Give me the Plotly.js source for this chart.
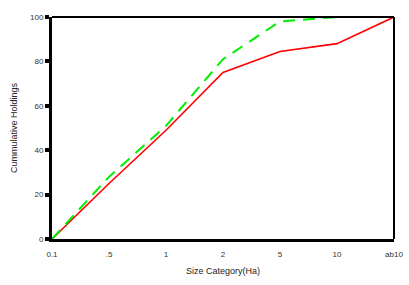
<!DOCTYPE html>
<html>
<head>
<meta charset="utf-8">
<script src="https://cdn.plot.ly/plotly-3.0.1.min.js"></script>
<style>html,body{margin:0;padding:0;background:#fff;}#chart{width:409px;height:285px;}</style>
</head>
<body>
<div id="chart"></div>
<script>
var categories = ["0.1", ".5", "1", "2", "5", "10", "ab10"];
var seriesRed = [0, 25, 49, 75, 84.5, 88, 100];
var seriesGreen = [0, 28, 51, 81, 98, 100, 100];
var yTicks = [0, 20, 40, 60, 80, 100];

var traces = [
  {x: categories, y: seriesRed, type: "scatter", mode: "lines", line: {color: "#ff0000", width: 1.6}, showlegend: false, cliponaxis: false},
  {x: categories, y: seriesGreen, type: "scatter", mode: "lines", line: {color: "#00ee00", width: 2, dash: "12px,8px"}, showlegend: false, cliponaxis: false}
];

var layout = {
  width: 409, height: 285,
  margin: {l: 52, r: 15, t: 17, b: 46},
  paper_bgcolor: "#fff", plot_bgcolor: "#fff",
  font: {family: "Liberation Sans, Arial, sans-serif", size: 8, color: "#333"},
  xaxis: {
    type: "category", range: [0, 6], showgrid: false, zeroline: false,
    showline: true, linecolor: "#000", linewidth: 3,
    ticks: "outside", ticklen: 5, tickcolor: "rgba(0,0,0,0)", tickfont: {size: 8, color: "#333"},
    title: {text: "Size Category(Ha)", font: {size: 9, color: "#222"}, standoff: 11}
  },
  yaxis: {
    range: [0, 100], showgrid: false, zeroline: false,
    showline: true, linecolor: "#000", linewidth: 3,
    tickvals: yTicks, ticks: "outside", ticklen: 4, tickwidth: 4, tickcolor: "#000",
    tickfont: {size: 8, color: "#333"},
    title: {text: "Cummulative Holdings", font: {size: 9, color: "#222"}, standoff: 11}
  },
  shapes: [
    {type: "line", xref: "paper", yref: "paper", x0: 0, x1: 1, y0: 1, y1: 1, line: {color: "#000", width: 2}},
    {type: "line", xref: "paper", yref: "paper", x0: 1, x1: 1, y0: 0, y1: 1, line: {color: "#000", width: 2}}
  ]
};
Plotly.newPlot("chart", traces, layout, {displayModeBar: false, staticPlot: true});
</script>
</body>
</html>
